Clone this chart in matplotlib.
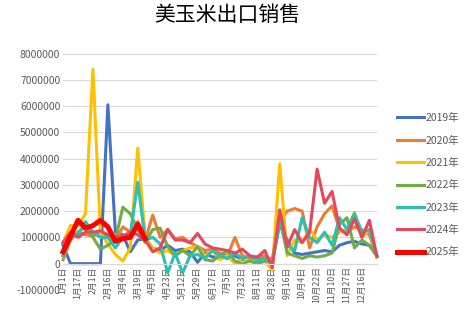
import numpy as np
import matplotlib
matplotlib.use('Agg')
from matplotlib import pyplot as plt

plt.rcParams['font.family'] = ['Noto Sans CJK SC', 'DejaVu Sans']

# category labels (one every 2nd point)
tick_labels = ['1月1日', '1月17日', '2月1日', '2月16日', '3月4日', '3月19日', '4月5日',
               '4月23日', '5月12日', '5月29日', '6月17日', '7月5日', '7月23日', '8月11日',
               '8月28日', '9月16日', '10月4日', '10月22日', '11月10日', '11月27日', '12月16日']

# values in million
y2019 = [0.7, 0, 0, 0, 0, 0, 6.05, 1.2, 1.1, 0.45, 0.9, 0.95, 0.6, 0.5, 0.7, 0.5, 0.55,
         0.45, 0.05, 0.4, 0.25, 0.3, 0.2, 0.3, 0.15, 0.2, 0.25, 0.15, 0.1, 1.5, 0.9, 0.4,
         0.35, 0.4, 0.45, 0.5, 0.45, 0.7, 0.8, 0.85, 0.75, 0.7, 0.3]
y2020 = [0.15, 0.9, 1.2, 1.1, 1.05, 1.2, 1.0, 0.85, 1.4, 1.2, 1.6, 0.9, 1.85, 1.0, 1.3,
         0.95, 1.0, 0.8, 0.65, 0.5, 0.55, 0.4, 0.3, 1.0, 0.3, 0.2, 0.25, 0.3, 0.15, 1.6,
         2.0, 2.1, 2.0, 0.6, 1.4, 1.9, 2.2, 1.3, 1.2, 1.4, 1.3, 1.1, 0.3]
y2021 = [0.8, 1.45, 1.45, 1.9, 7.4, 1.2, 0.75, 0.35, 0.1, 0.6, 4.4, 1.0, 0.6, 0.4, 0.5,
         0.3, 0.5, 0.6, 0.65, 0.3, 0.5, 0.15, 0.3, 0.0, 0.2, 0.1, 0.0, 0.1, -0.25, 3.8,
         0.3, 0.9, 0.8, 1.3, 0.9, 1.1, 1.0, 1.2, 1.3, 1.95, 1.0, 1.3, 0.25]
y2022 = [0.3, 0.9, 1.2, 1.4, 1.0, 0.55, 0.7, 0.9, 2.15, 1.9, 1.3, 0.8, 1.3, 1.35, 0.65,
         0.3, 0.5, 0.3, 0.65, 0.15, 0.1, 0.3, 0.5, 0.1, 0.0, 0.1, 0.0, 0.1, 0.1, 1.7,
         0.4, 0.3, 0.2, 0.3, 0.25, 0.3, 0.4, 1.5, 1.75, 0.6, 0.9, 0.7, 0.3]
y2023 = [0.3, 1.0, 1.1, 1.6, 1.2, 1.0, 1.0, 0.6, 1.0, 1.1, 3.1, 0.9, 1.0, 0.75, -0.35,
         0.4, -0.35, 0.3, 0.35, 0.2, 0.5, 0.3, 0.2, 0.4, 0.2, 0.3, 0.1, 0.2, 0.0, 1.65,
         0.7, 0.5, 1.75, 1.0, 0.8, 1.2, 0.7, 1.75, 1.3, 1.9, 1.2, 1.3, 0.3]
y2024 = [0.8, 1.2, 1.0, 1.2, 1.2, 1.25, 1.1, 1.0, 1.05, 1.2, 1.1, 0.9, 0.45, 0.6, 1.3,
         0.9, 0.9, 0.8, 1.15, 0.75, 0.6, 0.55, 0.5, 0.4, 0.55, 0.3, 0.25, 0.5, -0.15, 2.05,
         0.65, 1.3, 0.8, 1.2, 3.6, 2.3, 2.75, 1.35, 1.1, 1.7, 1.0, 1.65, 0.27]
y2025 = [0.45, 1.05, 1.65, 1.35, 1.45, 1.65, 1.4, 0.85, 0.95, 1.0, 1.5, 0.95]

series = [('2019年', y2019, '#4472C4', 2.2),
          ('2020年', y2020, '#ED7D31', 2.2),
          ('2021年', y2021, '#FFC000', 2.2),
          ('2022年', y2022, '#70AD47', 2.2),
          ('2023年', y2023, '#2CBFB3', 2.2),
          ('2024年', y2024, '#E5475C', 2.2),
          ('2025年', y2025, '#FF0000', 3.6)]

fig = plt.figure(figsize=(4.67, 3.25), dpi=100)
ax = fig.add_axes([0.135, 0.108, 0.672, 0.727])

for name, vals, col, lw in series:
    v = np.array(vals) * 1e6
    ax.plot(np.arange(len(v)), v, color=col, lw=lw, label=name,
            solid_joinstyle='round', clip_on=False)

# x axis sits at zero, like the excel chart
ax.spines['bottom'].set_position(('data', 0))
ax.spines['bottom'].set_color('#D9D9D9')
for s in ['top', 'right', 'left']:
    ax.spines[s].set_visible(False)

ax.set_xlim(0, 42)
ax.set_ylim(-1e6, 8e6)
ax.set_yticks(np.arange(-1e6, 8.1e6, 1e6))
ax.set_yticklabels(['%d' % t for t in np.arange(-1000000, 8000001, 1000000)],
                   fontsize=7.5, color='#595959')
ax.yaxis.grid(True, color='#D9D9D9', lw=0.8)
ax.set_axisbelow(True)

ax.set_xticks(np.arange(0, 41, 2))
ax.set_xticklabels(tick_labels, rotation=90, fontsize=6.3, color='#595959')
ax.tick_params(axis='both', length=0, pad=2)

fig.text(0.487, 0.955, '美玉米出口销售', ha='center', va='center', fontsize=15,
         color='black', fontweight='light')

fig.legend(loc='upper left', bbox_to_anchor=(0.842, 0.665), frameon=False,
           fontsize=7.5, handlelength=2.6, handletextpad=0.15, labelspacing=1.18,
           labelcolor='#595959', borderaxespad=0)

plt.savefig('out.png', dpi=100)
